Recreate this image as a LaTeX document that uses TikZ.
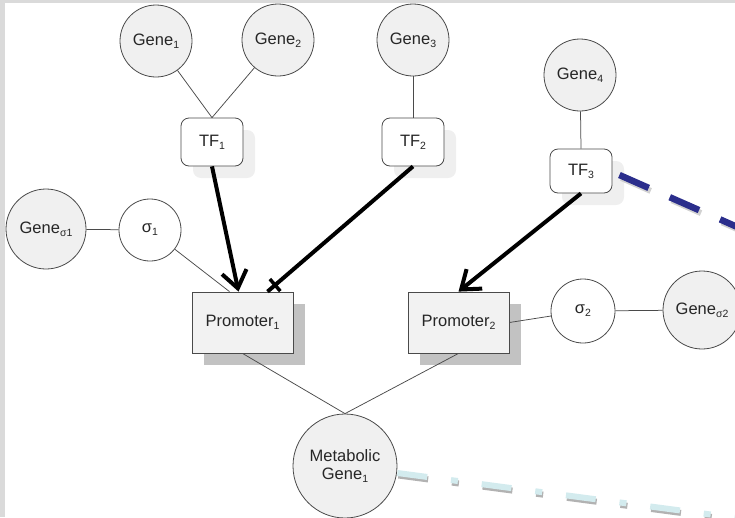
\documentclass[tikz,border=0pt]{standalone}
\usepackage{fontspec}
\setmainfont{Liberation Sans}
\usetikzlibrary{arrows.meta,calc,shadows,decorations.markings}

\definecolor{genefill}{HTML}{F0F0F0}
\definecolor{promfill}{HTML}{F2F2F2}
\definecolor{promshade}{HTML}{C2C2C2}
\definecolor{tfshade}{HTML}{EFEFEF}
\definecolor{edge}{HTML}{4A4A4A}
\definecolor{framegray}{HTML}{DADADA}
\definecolor{navy}{HTML}{2B2E8C}
\definecolor{paleblue}{HTML}{D3EBEE}

% small lowered index used in the labels
\newcommand{\idx}[1]{\raisebox{-0.35ex}{\fontsize{10.5}{11}\selectfont #1}}

\begin{document}
\begin{tikzpicture}[x=1pt,y=-1pt,
  every node/.style={font=\fontsize{16.5}{18.5}\selectfont, text=black!85},
  gene/.style={circle, draw=edge, fill=genefill, line width=0.8pt, inner sep=0pt, minimum size=72pt},
  sigmanode/.style={circle, draw=edge, fill=white, line width=0.8pt, inner sep=0pt, minimum size=62pt},
  tfbox/.style={rectangle, rounded corners=8pt, draw=edge, fill=white, line width=0.8pt,
    minimum width=62pt, minimum height=48pt, inner sep=0pt,
    drop shadow={shadow xshift=12pt, shadow yshift=-12pt, fill=tfshade, opacity=1}},
  promoter/.style={rectangle, draw=edge, fill=promfill, line width=0.8pt,
    minimum width=101pt, minimum height=61pt, inner sep=0pt,
    drop shadow={shadow xshift=12pt, shadow yshift=-12pt, fill=promshade, opacity=1}},
  link/.style={draw=edge, line width=0.75pt},
  activates/.style={draw=black, line width=4pt,
    -{Straight Barb[length=17pt, width=25pt, line width=4pt]}},
  represses/.style={draw=black, line width=4pt,
    postaction={decorate, decoration={markings,
      mark=at position -10pt with {\draw[line width=3.5pt] (0pt,-8pt) -- (0pt,8pt);}}}},
]
% page frame
\useasboundingbox (0,0) rectangle (735,517);
\clip (0,0) rectangle (735,517);
\fill[framegray] (0,0) rectangle (5,517);
\fill[framegray] (0,0) rectangle (735,3);

% genes
\node[gene] (g1) at (156,41) {Gene\idx{1}};
\node[gene] (g2) at (278,40) {Gene\idx{2}};
\node[gene] (g3) at (413,40) {Gene\idx{3}};
\node[gene] (g4) at (580,75) {Gene\idx{4}};
\node[gene, minimum size=80pt] (gs1) at (46,229) {Gene\idx{σ1}};
\node[gene, minimum size=78pt] (gs2) at (702,310) {Gene\idx{σ2}};
\node[gene, minimum size=104pt, align=center] (mg) at (345,466)
  {Metabolic\\[-1pt]Gene\idx{1}};

% transcription factors
\node[tfbox] (tf1) at (212,142) {TF\idx{1}};
\node[tfbox] (tf2) at (413,142) {TF\idx{2}};
\node[tfbox, minimum height=44pt] (tf3) at (581,171) {TF\idx{3}};

% sigma factors
\node[sigmanode] (s1) at (150,230) {σ\idx{1}};
\node[sigmanode, minimum size=64pt] (s2) at (583,311) {σ\idx{2}};

% promoters
\node[promoter] (p1) at (242.5,322.5) {Promoter\idx{1}};
\node[promoter] (p2) at (458.5,322.5) {Promoter\idx{2}};

% thin associations
\draw[link] (g1) -- (tf1.north);
\draw[link] (g2) -- (tf1.north);
\draw[link] (g3) -- (tf2.north);
\draw[link] (g4) -- (tf3.north);
\draw[link] (gs1) -- (s1);
\draw[link] (s1) -- ($(p1.north)+(-13,0)$);
\draw[link] (p2.east) -- (s2);
\draw[link] (s2) -- (gs2);
\draw[link] (p1.south) -- (mg.north);
\draw[link] (p2.south) -- (mg.north);

% regulation
\draw[activates] (tf1.south) -- ($(p1.north)+(-4,0)$);
\draw[represses] (tf2.south) -- ($(p1.north)+(25,0)$);
\draw[activates] (tf3.south) -- (p2.north);

% links leaving the panel
\coordinate (navyend) at (760,237);
\coordinate (paleend) at (760,521);
\draw[black!18, line width=6pt, dash pattern=on 32pt off 23pt]
  ($(tf3.east)+(9,7)$) -- ($(navyend)+(2,3)$);
\draw[navy, line width=6.5pt, dash pattern=on 32pt off 23pt]
  ($(tf3.east)+(7,4)$) -- (navyend);
\draw[black!30, line width=6pt, dash pattern=on 30pt off 24pt on 7pt off 24pt]
  ($(mg.east)+(0,7)$) ++(1,2.5) -- ($(paleend)+(1,2.5)$);
\draw[paleblue, line width=6pt, dash pattern=on 30pt off 24pt on 7pt off 24pt]
  ($(mg.east)+(0,7)$) -- (paleend);
\end{tikzpicture}
\end{document}
